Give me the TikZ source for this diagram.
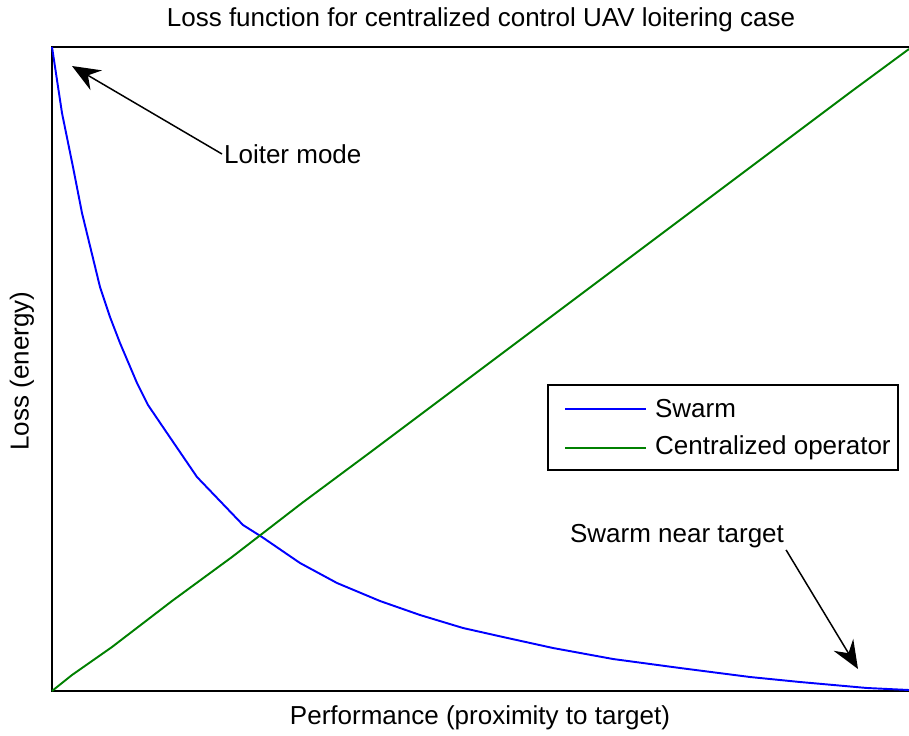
\documentclass[tikz,border=0pt]{standalone}
\usepackage{fontspec}
\setmainfont{Liberation Sans}
\usetikzlibrary{positioning,arrows.meta}
\definecolor{swarmblue}{RGB}{0,0,255}
\definecolor{opgreen}{RGB}{0,128,0}

\begin{document}
\begin{tikzpicture}[x=0.02cm, y=0.02cm,
    axis/.style={line width=1.1pt, black},
    curve/.style={line width=1.1pt, line join=round},
    label/.style={font=\fontsize{14.8}{17}\selectfont, inner sep=1pt},
    arrow/.style={-{Stealth[length=16pt, width=13pt, inset=5.5pt]}, line width=0.85pt},
    legendbox/.style={draw, line width=1.1pt, minimum width=7cm, minimum height=1.7cm}
]
\useasboundingbox (-52,-44) rectangle (857,691);

% Axes
\draw[axis] (857,644) -- (0,644) -- (0,0) -- (857,0);

% Curves
\draw[curve, swarmblue] plot coordinates {(0,644) (10,578) (21,524) (30,478) (48,404)
    (58,374) (68,348) (85,308) (96,286) (115,258) (145,214) (191,166) (210,154)
    (248,128) (285,108) (328,90) (368,76) (411,63) (451,54) (501,43) (561,32)
    (628,23) (698,14) (748,9) (815,3) (857,1)};
\draw[curve, opgreen] plot coordinates {(0,0) (20,16) (60,44) (120,90) (180,134)
    (250,188) (320,240) (400,300) (480,360) (560,420) (640,480) (720,540)
    (800,600) (857,642)};

% Title and axis labels
\node[label] (title) at (429,671) {Loss function for centralized control UAV loitering case};
\node[label] (xlab) at (428,-27) {Performance (proximity to target)};
\node[label, rotate=90] (ylab) at (-30,320) {Loss (energy)};

% Legend
\node[legendbox] (legend) at (671,263.5) {};
\draw[curve, swarmblue] (513,282) -- (594,282);
\draw[curve, opgreen] (513,243) -- (594,243);
\node[label, anchor=west] (swarmentry) at (601,282) {Swarm};
\node[label, anchor=west] (opentry) at (601,243) {Centralized operator};

% Annotations
\node[label, anchor=west] (loiter) at (170,537) {Loiter mode};
\coordinate (loitertip) at (20,625);
\draw[arrow] (loiter.west) -- (loitertip);

\node[label] (neartarget) at (625,155) {Swarm near target};
\coordinate (neartip) at (806,22);
\draw[arrow] (neartarget.south east) -- (neartip);

\end{tikzpicture}
\end{document}
